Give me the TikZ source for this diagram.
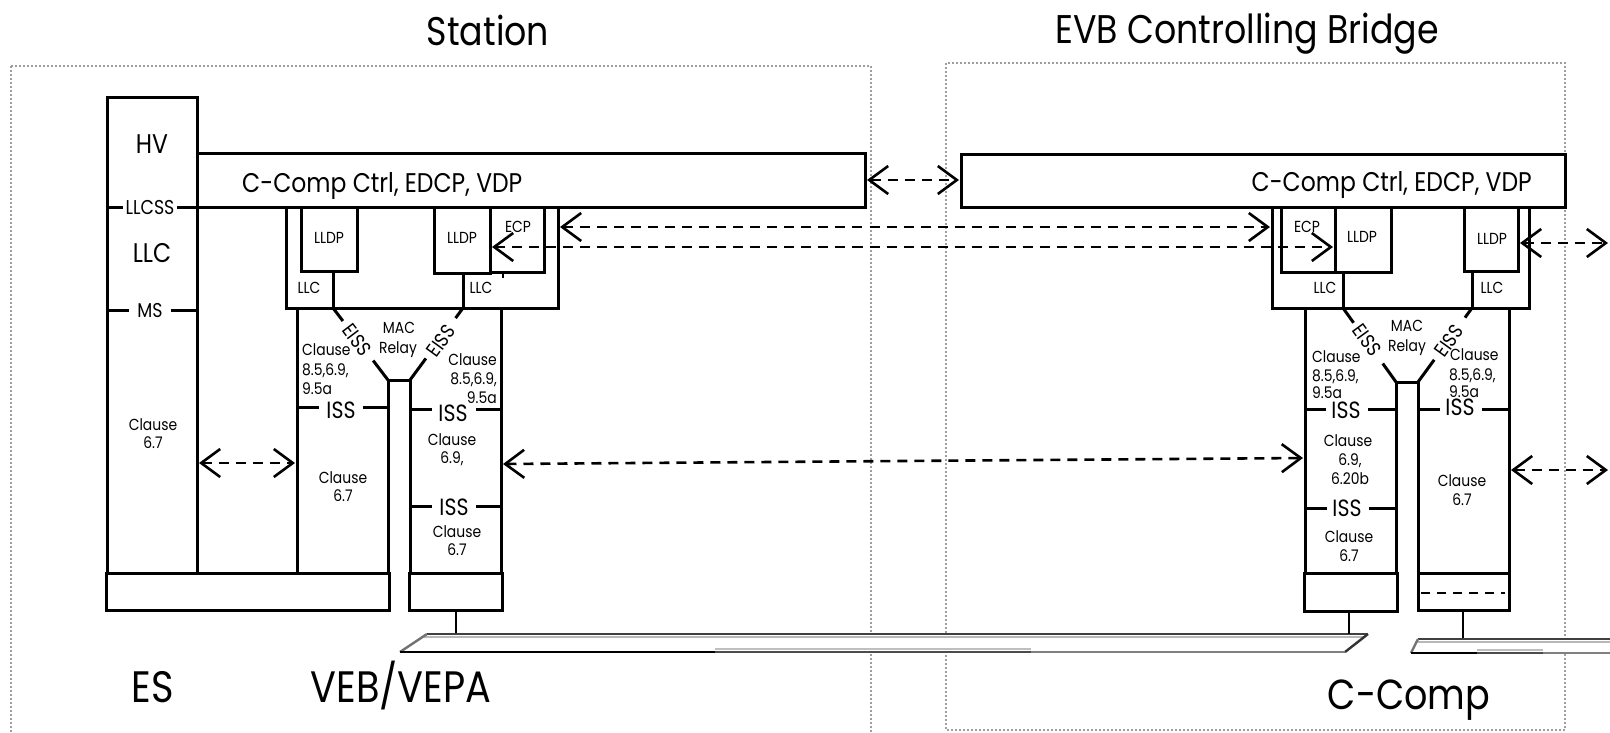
\documentclass[tikz,border=0pt]{standalone}
\usepackage{fontspec}
\setmainfont{Poppins}[FakeStretch=0.87]
\usetikzlibrary{arrows.meta,calc}
\begin{document}
\begin{tikzpicture}[x=1pt,y=-1pt,
  bl/.style={line width=3pt},
  frm/.style={draw=black!38,line width=2pt,dash pattern=on 2pt off 2pt},
  da/.style={line width=2.6pt,dash pattern=on 10pt off 7pt,
    {Straight Barb[length=19pt,width=28pt]}-{Straight Barb[length=19pt,width=28pt]}},
  txt/.style={inner sep=0pt,anchor=base},
  ft/.style={font=\fontsize{40}{48}\selectfont},
  fb/.style={font=\fontsize{27}{32}\selectfont},
  fm/.style={font=\fontsize{20}{24}\selectfont},
  fi/.style={font=\fontsize{23.5}{28}\selectfont},
  fs/.style={font=\fontsize{16}{20}\selectfont},
  fl/.style={font=\fontsize{44}{52}\selectfont},
]
\clip (0,0) rectangle (1610,732);
\fill[white] (0,0) rectangle (1610,732);

% ---------------- frames and titles
\draw[frm] (11,66) rectangle (871,745);
\draw[frm] (946,63) rectangle (1565,730);
\node[txt,ft] (tstation) at (488,45) {Station};
\node[txt,ft] (tevb) at (1247,43) {EVB Controlling Bridge};

% ================= STATION =================
% HV box
\draw[bl] (107,97) rectangle (197,573);
\node[txt,fb] (thv) at (152,153) {HV};
\draw[bl] (107,207) -- (123,207);
\node[txt,fm] (tllcss) at (150,214) {LLCSS};
\node[txt,fb] (tllcbig) at (152,262) {LLC};
\draw[bl] (107,310) -- (129,310);
\draw[bl] (171,310) -- (197,310);
\node[txt,fm] (tms) at (150,317) {MS};
\node[txt,fs] (thvc1) at (153,430) {Clause};
\node[txt,fs] (thvc2) at (153,448) {6.7};

% station bar
\draw[bl] (197,153) -- (865,153) -- (865,207) -- (177,207);
\node[txt,fb,anchor=base west] (tbar1) at (242,192) {C-Comp Ctrl, EDCP, VDP};

% upper box
\draw[bl] (286,207) rectangle (558,308);
\draw[bl] (301,207) rectangle (357,271);
\node[txt,fs] (tlldp1) at (329,243) {LLDP};
\draw[bl] (333,271) -- (333,308);
\node[txt,fs] (tllc1) at (309,293) {LLC};
\draw[bl] (434,207) rectangle (490,273);
\node[txt,fs] (tlldp2) at (462,243) {LLDP};
\draw[bl] (490,207) rectangle (544,272);
\node[txt,fs] (tecp1) at (518,232) {ECP};
\draw[bl] (463,273) -- (463,308);
\draw[line width=2pt] (503,273) -- (503,278);
\node[txt,fs] (tllc2) at (481,293) {LLC};

% ports and relay
\coordinate (sA) at (333,308);
\coordinate (sB) at (388,380);
\coordinate (sC) at (410,380);
\coordinate (sD) at (463,308);
\draw[bl] (297,308) -- (297,573);
\draw[bl] (sB) -- (388,573);
\draw[bl] (sC) -- (410,573);
\draw[bl] (501,308) -- (501,573);
\draw[bl] (sB) -- (sC);
\draw[bl] (sA) -- ($(sA)!0.18!(sB)$);
\draw[bl] ($(sA)!0.73!(sB)$) -- (sB);
\draw[bl] (sD) -- ($(sD)!0.14!(sC)$);
\draw[bl] ($(sD)!0.70!(sC)$) -- (sC);
\node[fm,inner sep=0pt,rotate=-53] (teiss1) at (357,340) {EISS};
\node[fm,inner sep=0pt,rotate=54] (teiss2) at (441,341) {EISS};
\node[txt,fs] (tmac1) at (399,333) {MAC};
\node[txt,fs] (trelay1) at (398,353) {Relay};

\node[txt,fs,anchor=base west] (tl1) at (302,355) {Clause};
\node[txt,fs,anchor=base west] (tl2) at (302,375) {8.5,6.9,};
\node[txt,fs,anchor=base west] (tl3) at (302,394) {9.5a};
\node[txt,fs,anchor=base east] (tr1) at (497,365) {Clause};
\node[txt,fs,anchor=base east] (tr2) at (497,384) {8.5,6.9,};
\node[txt,fs,anchor=base east] (tr3) at (497,403) {9.5a};

\draw[bl] (297,407) -- (319,407);
\draw[bl] (363,407) -- (388,407);
\node[txt,fi] (tiss1) at (341,418) {ISS};
\draw[bl] (410,409) -- (432,409);
\draw[bl] (476,409) -- (501,409);
\node[txt,fi] (tiss2) at (453,421) {ISS};
\draw[bl] (410,506) -- (432,506);
\draw[bl] (476,506) -- (501,506);
\node[txt,fi] (tiss3) at (454,515) {ISS};

\node[txt,fs] (tc1a) at (343,483) {Clause};
\node[txt,fs] (tc1b) at (343,501) {6.7};
\node[txt,fs] (tc2a) at (452,445) {Clause};
\node[txt,fs] (tc2b) at (452,463) {6.9,};
\node[txt,fs] (tc3a) at (457,537) {Clause};
\node[txt,fs] (tc3b) at (457,555) {6.7};

% bottom
\draw[bl] (106,573) rectangle (389,610);
\draw[bl] (409,573) rectangle (502,610);
\draw[line width=2.2pt] (456,610) -- (456,634);

% bus 1
\fill[white] (400,652) -- (427,634) -- (1368,634) -- (1345,652) -- cycle;
\draw[line width=2.4pt,black!75] (427,634) -- (1368,634);
\draw[line width=2.4pt,black!28] (424,637) -- (1365,637);
\draw[line width=2.4pt,black!55] (400,652) -- (427,634);
\draw[line width=2.4pt,black!80] (1345,652) -- (1368,634);
\draw[line width=2.8pt,black] (400,652) -- (715,652);
\draw[line width=2.8pt,black!70] (715,652) -- (1031,652);
\draw[line width=1.6pt,black!25] (715,649) -- (1031,649);
\draw[line width=2.8pt,black!50] (1031,652) -- (1345,652);

\node[txt,fl] (tes) at (153,702) {ES};
\node[txt,fl] (tveb) at (401,702) {VEB/VEPA};

% ================= BRIDGE =================
\draw[bl] (961,154) rectangle (1565,207);
\node[txt,fb,anchor=base east] (tbar2) at (1532,191) {C-Comp Ctrl, EDCP, VDP};
\draw[bl] (1272,207) rectangle (1529,308);
\draw[bl] (1281,207) rectangle (1335,272);
\node[txt,fs] (tecp2) at (1307,232) {ECP};
\draw[bl] (1335,207) rectangle (1391,272);
\node[txt,fs] (tlldp3) at (1362,242) {LLDP};
\draw[bl] (1343,272) -- (1343,308);
\node[txt,fs] (tllc3) at (1325,293) {LLC};
\draw[bl] (1464,207) rectangle (1518,271);
\node[txt,fs] (tlldp4) at (1492,244) {LLDP};
\draw[bl] (1472,271) -- (1472,308);
\node[txt,fs] (tllc4) at (1492,293) {LLC};

\coordinate (bA) at (1343,308);
\coordinate (bB) at (1396,382);
\coordinate (bC) at (1418,382);
\coordinate (bD) at (1472,308);
\draw[bl] (1305,308) -- (1305,573);
\draw[bl] (bB) -- (1396,573);
\draw[bl] (bC) -- (1418,573);
\draw[bl] (1509,308) -- (1509,573);
\draw[bl] (bB) -- (bC);
\draw[bl] (bA) -- ($(bA)!0.2!(bB)$);
\draw[bl] ($(bA)!0.75!(bB)$) -- (bB);
\draw[bl] (bD) -- ($(bD)!0.13!(bC)$);
\draw[bl] ($(bD)!0.70!(bC)$) -- (bC);
\node[fm,inner sep=0pt,rotate=-54] (teiss3) at (1367,340) {EISS};
\node[fm,inner sep=0pt,rotate=54] (teiss4) at (1449,341) {EISS};
\node[txt,fs] (tmac2) at (1407,331) {MAC};
\node[txt,fs] (trelay2) at (1407,351) {Relay};

\node[txt,fs,anchor=base west] (tbl1) at (1312,362) {Clause};
\node[txt,fs,anchor=base west] (tbl2) at (1312,381) {8.5,6.9,};
\node[txt,fs,anchor=base west] (tbl3) at (1312,398) {9.5a};
\node[txt,fs,anchor=base west] (tbr1) at (1450,360) {Clause};
\node[txt,fs,anchor=base west] (tbr2) at (1449,380) {8.5,6.9,};
\node[txt,fs,anchor=base west] (tbr3) at (1449,397) {9.5a};

\draw[bl] (1305,409) -- (1326,409);
\draw[bl] (1368,409) -- (1396,409);
\node[txt,fi] (tiss4) at (1346,418) {ISS};
\draw[bl] (1418,409) -- (1440,409);
\draw[bl] (1482,409) -- (1509,409);
\node[txt,fi] (tiss5) at (1460,415) {ISS};
\draw[bl] (1305,508) -- (1327,508);
\draw[bl] (1369,508) -- (1396,508);
\node[txt,fi] (tiss6) at (1347,516) {ISS};

\node[txt,fs] (tbc1a) at (1348,446) {Clause};
\node[txt,fs] (tbc1b) at (1350,465) {6.9,};
\node[txt,fs] (tbc1c) at (1350,484) {6.20b};
\node[txt,fs] (tbc2a) at (1349,542) {Clause};
\node[txt,fs] (tbc2b) at (1349,561) {6.7};
\node[txt,fs] (tbc3a) at (1462,486) {Clause};
\node[txt,fs] (tbc3b) at (1462,505) {6.7};

\draw[bl] (1304,573) rectangle (1397,611);
\draw[bl] (1418,573) rectangle (1509,610);
\draw[line width=2.8pt,dash pattern=on 9pt off 7pt] (1421,593) -- (1505,593);
\draw[line width=2.2pt] (1349,611) -- (1349,634);
\draw[line width=2.2pt] (1463,610) -- (1463,639);

% bus 2
\fill[white] (1411,653) -- (1418,639) -- (1620,639) -- (1612,653) -- cycle;
\draw[line width=2.4pt,black!75] (1418,639) -- (1620,639);
\draw[line width=2.4pt,black!28] (1415,642) -- (1620,642);
\draw[line width=2.4pt,black!55] (1411,653) -- (1418,639);
\draw[line width=2.8pt,black] (1411,653) -- (1477,653);
\draw[line width=2.8pt,black!70] (1477,653) -- (1543,653);
\draw[line width=1.6pt,black!25] (1477,650) -- (1543,650);
\draw[line width=2.8pt,black!50] (1543,653) -- (1620,653);

\node[txt,fl,font=\fontsize{42}{50}\selectfont] (tccomp) at (1409,709) {C-Comp};

% ================= CONNECTORS =================
\coordinate (hvR) at (199,463);
\coordinate (lpL) at (295,463);
\coordinate (sbarR) at (867,180);
\coordinate (bbarL) at (959,180);
\coordinate (secp) at (560,227);
\coordinate (becp) at (1270,227);
\coordinate (slldp) at (492,247);
\coordinate (blldp) at (1333,247);
\coordinate (srp) at (503,464);
\coordinate (blp) at (1303,458);
\coordinate (blldpR) at (1520,243);
\coordinate (edge1) at (1608,243);
\coordinate (brpR) at (1511,470);
\coordinate (edge2) at (1608,470);

\draw[da] (hvR) -- (lpL);
\draw[da] (sbarR) -- (bbarL);
\draw[da] (secp) -- (becp);
\draw[da] (slldp) -- (blldp);
\draw[da] (srp) -- (blp);
\draw[da] (blldpR) -- (edge1);
\draw[da] (brpR) -- (edge2);
\end{tikzpicture}
\end{document}
